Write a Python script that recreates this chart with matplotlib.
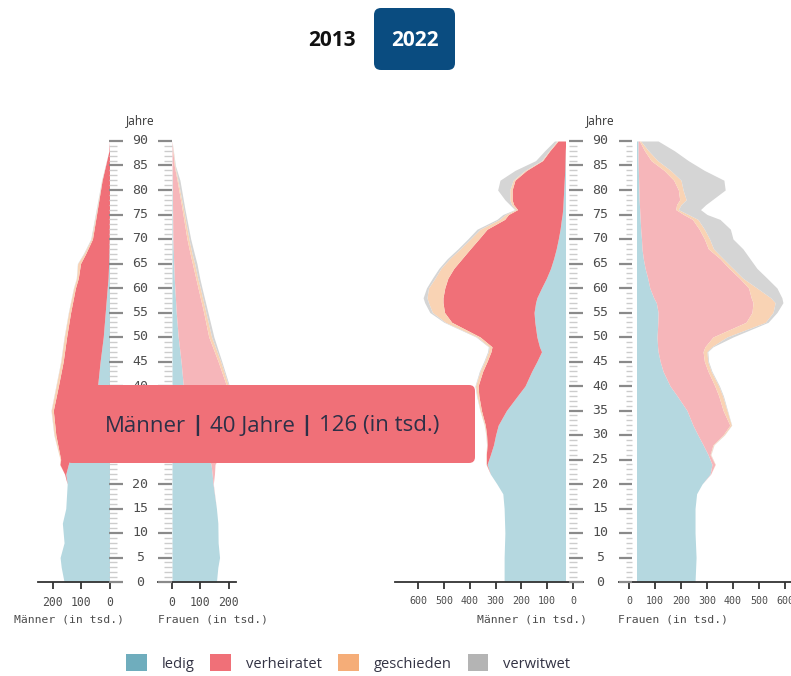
import numpy as np
import matplotlib.pyplot as plt
from matplotlib.patches import Patch, FancyBboxPatch

W, H = 791, 676

categories = ['ledig', 'verheiratet', 'geschieden', 'verwitwet']
legend_colors = ['#6fadbd', '#f07078', '#f5ad78', '#b4b4b4']
men_colors = ['#b5d8e0', '#f07078', '#f9d3b4', '#d5d5d5']
women_colors = ['#b5d8e0', '#f6b6ba', '#f9d3b4', '#d5d5d5']

# right pyramid (2022), values in tsd.
ages_r = [0, 5, 10, 15, 18, 20, 22, 24, 26, 28, 30, 32, 35, 38, 40, 43, 45, 47, 48, 50, 53,
          55, 57, 58, 60, 62, 64, 66, 68, 70, 72, 74, 75, 76, 77, 78, 80, 82, 84, 86, 88, 90]
men_r_ledig = [267, 267, 264, 267, 272, 295, 320, 333, 320, 308, 300, 290, 258, 215, 186, 160, 140, 122, 130, 140, 148,
               151, 145, 140, 122, 103, 87, 75, 65, 57, 50, 45, 42, 40, 39, 38, 36, 34, 32, 31, 30, 28]
men_r_verh = [0, 0, 0, 0, 0, 0, 0, 3, 16, 25, 35, 50, 97, 150, 182, 190, 193, 196, 184, 220, 322,
              347, 359, 364, 375, 382, 375, 355, 333, 308, 283, 220, 208, 175, 191, 198, 200, 191, 148, 87, 60, 30]
men_r_gesch = [0, 0, 0, 0, 0, 0, 0, 1, 1, 1, 2, 3, 5, 7, 10, 10, 10, 10, 11, 12, 25,
               47, 56, 62, 63, 50, 50, 48, 39, 33, 27, 20, 12, 7, 8, 9, 9, 7, 6, 4, 3, 4]
men_r_verw = [0, 0, 0, 0, 0, 0, 0, 0, 0, 1, 1, 1, 1, 2, 2, 3, 3, 3, 3, 4, 5,
              10, 15, 15, 8, 10, 8, 9, 9, 10, 12, 10, 10, 4, 7, 19, 47, 51, 39, 23, 17, 10]

women_r_ledig = [254, 258, 254, 254, 260, 281, 312, 319, 304, 285, 265, 246, 223, 185, 158, 131, 120, 112, 110, 108, 111,
                 112, 105, 95, 80, 72, 62, 55, 50, 48, 45, 43, 42, 41, 40, 39, 38, 37, 36, 35, 35, 35]
women_r_verh = [0, 0, 0, 0, 0, 0, 2, 12, 8, 38, 97, 142, 139, 160, 172, 173, 170, 173, 182, 215, 339,
                361, 372, 375, 380, 353, 323, 295, 255, 242, 225, 201, 168, 139, 143, 156, 152, 135, 99, 50, 25, 5]
women_r_gesch = [0, 0, 0, 0, 0, 0, 0, 1, 2, 3, 4, 6, 15, 15, 15, 12, 13, 15, 26, 54, 75,
                 81, 85, 75, 32, 13, 15, 12, 20, 20, 20, 21, 18, 10, 17, 25, 18, 28, 25, 25, 15, 5]
women_r_verw = [0, 0, 0, 0, 0, 0, 0, 0, 1, 1, 1, 1, 2, 3, 3, 3, 3, 3, 5, 23, 10,
                15, 30, 43, 77, 93, 92, 103, 113, 90, 100, 85, 72, 85, 95, 100, 162, 165, 130, 118, 100, 67]

# left pyramid, values in tsd.
ages_l = [0, 3, 5, 8, 12, 15, 20, 22, 24, 25, 30, 35, 40, 45, 50, 55, 60, 62, 65, 67, 70, 76, 82, 85, 88, 90]
men_l_ledig = [160, 170, 174, 160, 166, 154, 149, 154, 145, 140, 85, 55, 42, 33, 22, 15, 8, 5, 3, 2, 1, 0, 0, 0, 0, 0]
men_l_verh = [0, 0, 0, 0, 0, 0, 0, 4, 30, 32, 104, 143, 138, 130, 129, 122, 112, 105, 99, 82, 59, 43, 26, 14, 2, 0]
men_l_gesch = [0, 0, 0, 0, 0, 0, 0, 0, 1, 2, 6, 7, 8, 8, 8, 7, 6, 6, 10, 6, 4, 2, 1, 0, 0, 0]
men_l_verw = [0, 0, 0, 0, 0, 0, 0, 0, 0, 0, 1, 1, 1, 1, 1, 1, 1, 1, 1, 2, 2, 2, 1, 1, 0, 0]

women_l_ledig = [157, 162, 168, 163, 162, 157, 145, 142, 138, 130, 85, 55, 40, 32, 22, 15, 10, 8, 6, 5, 3, 2, 1, 0, 0, 0]
women_l_verh = [0, 0, 0, 0, 0, 0, 1, 8, 14, 30, 105, 145, 153, 131, 108, 97, 82, 76, 66, 59, 50, 34, 17, 8, 3, 0]
women_l_gesch = [0, 0, 0, 0, 0, 0, 0, 0, 0, 2, 5, 6, 7, 9, 10, 8, 8, 7, 8, 7, 7, 5, 3, 2, 1, 0]
women_l_verw = [0, 0, 0, 0, 0, 0, 0, 0, 0, 1, 2, 2, 3, 4, 8, 7, 6, 7, 8, 8, 6, 5, 7, 2, 1, 0]

tooltip_parts = ['Männer', '40 Jahre', '126 (in tsd.)']
years = ['2013', '2022']

SANS = ['Open Sans', 'DejaVu Sans']
MONO = 'DejaVu Sans Mono'


def px(x0, y0, x1, y1):
    # pixel box -> figure rect
    return [x0 / W, 1 - y1 / H, (x1 - x0) / W, (y1 - y0) / H]


def stack(ax, ages, series, colors):
    base = np.zeros(len(ages))
    for vals, c in zip(series, colors):
        top = base + np.array(vals, dtype=float)
        ax.fill_betweenx(ages, base, top, color=c, lw=0, zorder=1)
        base = top


def style(ax, ticks, fs):
    ax.set_ylim(0, 90)
    for s in ['left', 'right', 'top']:
        ax.spines[s].set_visible(False)
    ax.spines['bottom'].set_color('#333333')
    ax.spines['bottom'].set_linewidth(1.3)
    ax.set_yticks([])
    ax.set_xticks(ticks)
    ax.set_xticklabels([str(t) for t in ticks], fontfamily=MONO)
    ax.tick_params(axis='x', length=5, width=1.3, color='#333333', pad=5,
                   labelsize=fs, labelcolor='#4d4d4d')
    ax.patch.set_alpha(0)


def ruler(x0, x1, men_major, men_minor, wom_major, wom_minor, label_x):
    ax = fig.add_axes(px(x0, 141, x1, 582))
    ax.set_xlim(x0, x1)
    ax.set_ylim(0, 90)
    ax.axis('off')
    yrs = np.arange(0, 91)
    minor = yrs[yrs % 5 != 0]
    major = yrs[yrs % 5 == 0]
    ax.hlines(minor, *men_minor, color='#cccccc', lw=1)
    ax.hlines(minor, *wom_minor, color='#cccccc', lw=1)
    ax.hlines(major, *men_major, color='#8a8a8a', lw=1.6, clip_on=False)
    ax.hlines(major, *wom_major, color='#8a8a8a', lw=1.6, clip_on=False)
    for a in major:
        ax.text(label_x, a, str(a), ha='center', va='center', fontsize=9.5,
                family=MONO, color='#4d4d4d')
    ax.text(label_x, 94.1, 'Jahre', ha='center', va='center', fontsize=8.5,
            family=SANS, color='#333333')


fig = plt.figure(figsize=(W / 100, H / 100), dpi=100)

# right pyramid
ax_m = fig.add_axes(px(395, 141, 583, 582))
stack(ax_m, ages_r, [men_r_ledig, men_r_verh, men_r_gesch, men_r_verw], men_colors)
ax_m.set_xlim((573 - 395) / 0.258, (573 - 583) / 0.258)
ax_m.axvspan(-60, 27, color='white', lw=0, zorder=2)
style(ax_m, [0, 100, 200, 300, 400, 500, 600], 7.2)

ax_w = fig.add_axes(px(619, 141, 791, 582))
stack(ax_w, ages_r, [women_r_ledig, women_r_verh, women_r_gesch, women_r_verw], women_colors)
ax_w.set_xlim((619 - 629) / 0.26, (791 - 629) / 0.26)
ax_w.axvspan(-60, 31, color='white', lw=0, zorder=2)
style(ax_w, [0, 100, 200, 300, 400, 500, 600], 7.2)

# left pyramid
ax_lm = fig.add_axes(px(38, 141, 112, 582))
stack(ax_lm, ages_l, [men_l_ledig, men_l_verh, men_l_gesch, men_l_verw], men_colors)
ax_lm.set_xlim((109.5 - 38) / 0.284, (109.5 - 112) / 0.284)
style(ax_lm, [0, 100, 200], 8.3)

ax_lw = fig.add_axes(px(158, 141, 236, 582))
stack(ax_lw, ages_l, [women_l_ledig, women_l_verh, women_l_gesch, women_l_verw], women_colors)
ax_lw.set_xlim((158 - 172) / 0.283, (236 - 172) / 0.283)
style(ax_lw, [0, 100, 200], 8.3)

ruler(560, 640, (569, 583), (569, 577), (619, 632), (626, 632), 600)
ruler(100, 180, (109, 123), (109, 117), (158, 172), (164, 172), 140)

for x, ha, s in [(587, 'right', 'Männer (in tsd.)'), (618, 'left', 'Frauen (in tsd.)'),
                 (124, 'right', 'Männer (in tsd.)'), (158, 'left', 'Frauen (in tsd.)')]:
    fig.text(x / W, 1 - 619 / H, s, ha=ha, va='center', fontsize=8.2,
             family=MONO, color='#4d4d4d')

# overlay: buttons + tooltip
ov = fig.add_axes([0, 0, 1, 1])
ov.set_xlim(0, W)
ov.set_ylim(H, 0)
ov.axis('off')
ov.set_zorder(10)

ov.add_patch(FancyBboxPatch((374, 8), 81, 62, boxstyle='round,pad=0,rounding_size=7',
                            fc='#0a4c80', ec='none'))
ov.text(332, 40, years[0], ha='center', va='center', fontsize=15, fontweight='bold',
        family=SANS, color='#111111')
ov.text(414.5, 40, years[1], ha='center', va='center', fontsize=15, fontweight='bold',
        family=SANS, color='white')

ov.add_patch(FancyBboxPatch((66, 385), 409, 78, boxstyle='round,pad=0,rounding_size=6',
                            fc='#f07078', ec='none'))

# tooltip text: plain parts with bold separators, laid out left to right
pieces = []
for i, part in enumerate(tooltip_parts):
    if i > 0:
        pieces.append((' | ', 'bold'))
    pieces.append((part, 'normal'))
renderer = fig.canvas.get_renderer()
texts = []
for s, w in pieces:
    t = ov.text(0, 426, s, ha='left', va='center', fontsize=16, fontweight=w,
                family=SANS, color='#2d3047')
    texts.append(t)
widths = [t.get_window_extent(renderer).width for t in texts]
x = 272 - sum(widths) / 2
for t, w in zip(texts, widths):
    t.set_x(x)
    x += w

handles = [Patch(fc=c, ec='none') for c in legend_colors]
leg = fig.legend(handles, categories, loc='center', bbox_to_anchor=(348 / W, 1 - 663 / H),
                 ncol=4, frameon=False, handlelength=1.4, handleheight=1.4,
                 handletextpad=1.0, columnspacing=1.1,
                 prop={'family': SANS, 'size': 10.6})
for t in leg.get_texts():
    t.set_color('#333344')

fig.savefig('out.png', dpi=100)
